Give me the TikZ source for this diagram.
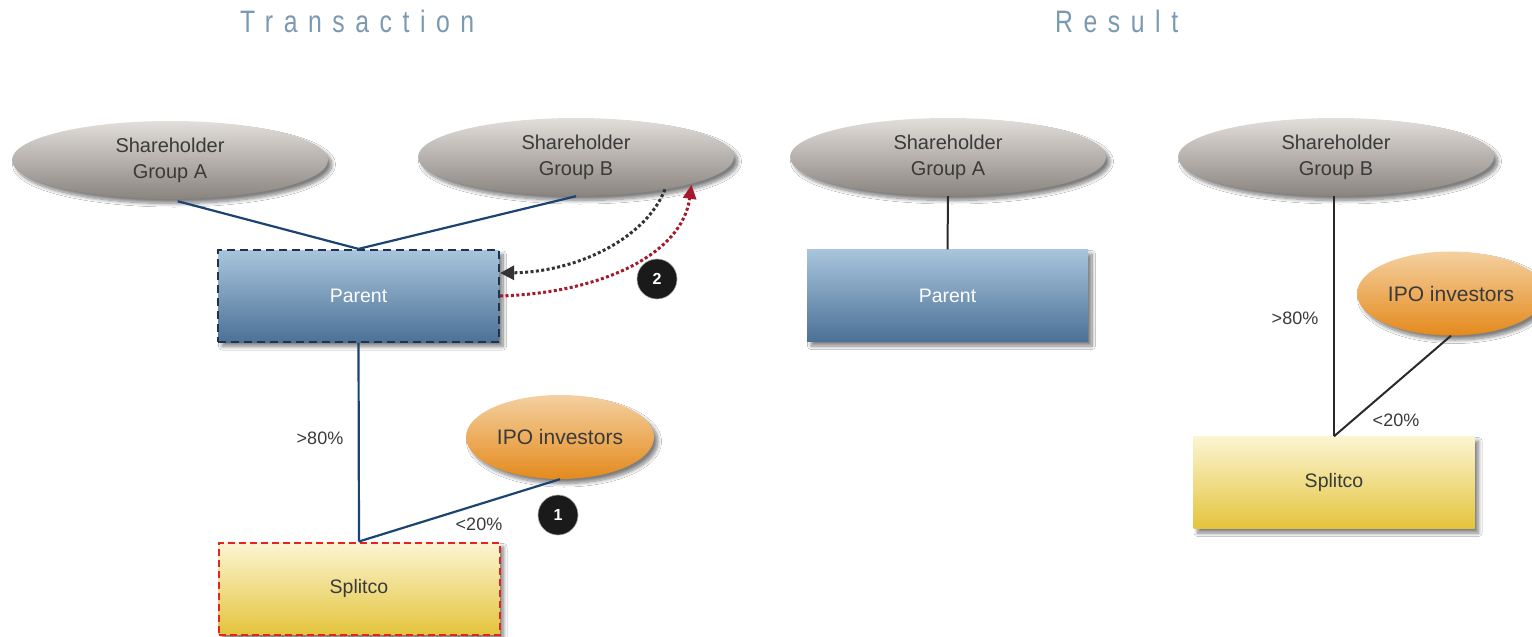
\documentclass[tikz,border=0pt]{standalone}
\usepackage{fontspec}
\setmainfont{Liberation Sans}
\newfontfamily\titlefont[FakeStretch=0.8,LetterSpace=34]{Liberation Sans}
\usetikzlibrary{shapes.geometric,shadows.blur,arrows.meta}

\definecolor{greyTop}{HTML}{E2DEDA}
\definecolor{greyBot}{HTML}{8A847F}
\definecolor{blueTop}{HTML}{A9C5DD}
\definecolor{blueBot}{HTML}{4B7196}
\definecolor{yelTop}{HTML}{FBF5D2}
\definecolor{yelBot}{HTML}{E4C43C}
\definecolor{orTop}{HTML}{F4D0A0}
\definecolor{orBot}{HTML}{E48A1C}
\definecolor{navyline}{HTML}{1B4470}
\definecolor{navyedge}{HTML}{1E3350}
\definecolor{rededge}{HTML}{E42424}
\definecolor{txt}{HTML}{3A3A3A}
\definecolor{titleblue}{HTML}{7A9AB3}
\definecolor{badgeblack}{HTML}{1A1A1A}
\definecolor{arrowred}{HTML}{A31A2C}
\definecolor{arrowblack}{HTML}{333333}
\definecolor{resline}{HTML}{2A2A2A}

\begin{document}
\begin{tikzpicture}[x=1pt,y=-1pt,
  soft/.style={blur shadow={shadow xshift=4pt,shadow yshift=-4.5pt,shadow blur radius=3.5pt,
    shadow blur steps=10,shadow opacity=50}},
  holder/.style={ellipse,soft,minimum width=316pt,minimum height=78pt,inner sep=0pt,
    top color=greyTop,bottom color=greyBot,align=center,text=txt,
    font=\fontsize{20}{26}\selectfont},
  ipo/.style={ellipse,soft,minimum width=188pt,minimum height=84pt,inner sep=0pt,
    top color=orTop,bottom color=orBot,text=txt,font=\fontsize{21}{25}\selectfont},
  entity/.style={rectangle,soft,minimum width=281pt,minimum height=92pt,inner sep=0pt,
    font=\fontsize{19.5}{23}\selectfont},
  parentbox/.style={entity,top color=blueTop,bottom color=blueBot,text=white},
  splitbox/.style={entity,top color=yelTop,bottom color=yelBot,text=txt},
  own/.style={draw=navyline,line width=2.2pt},
  resown/.style={draw=resline,line width=2pt},
  pct/.style={text=txt,font=\fontsize{18}{20}\selectfont},
  badge/.style={circle,fill=badgeblack,draw=gray!70,line width=0.6pt,minimum size=40pt,inner sep=0pt,
    text=white,font=\bfseries\fontsize{16}{16}\selectfont},
  heading/.style={anchor=base west,inner sep=0pt,text=titleblue,font=\titlefont\fontsize{31}{31}\selectfont},
  flow/.style={line width=3pt,dash pattern=on 3pt off 2.4pt}
]
\clip (0,0) rectangle (1532,637);
\fill[white] (0,0) rectangle (1532,637);

% headings
\node[heading] (ttrans) at (240,32) {Transaction};
\node[heading] (tres) at (1055,32) {Result};

% ---- transaction side ----
\node[holder] (sha) at (170,160) {Shareholder\\Group A};
\node[holder] (shb) at (576,157) {Shareholder\\Group B};
\node[parentbox,draw=navyedge,line width=2.2pt,dash pattern=on 8pt off 5pt] (par) at (358.5,296) {Parent};
\node[ipo] (ipo) at (560,437) {IPO investors};
\node[splitbox,draw=rededge,line width=2pt,dash pattern=on 7pt off 4pt] (spl) at (359,588.5) {Splitco};

\draw[own,shorten <=8pt] (sha.south) -- (par.north);
\draw[own] (shb.south) -- (par.north);
\draw[own] (par.south) -- (spl.north);
\draw[own] (ipo.south) -- (spl.north);

\node[pct] (p80) at (320,438) {>80\%};
\node[pct] (p20) at (479,524) {<20\%};

\draw[flow,draw=arrowblack,-{Triangle[length=14pt,width=14pt]}]
  (shb.-20) .. controls (645,240) and (575,272) .. ([yshift=23pt]par.east);
\draw[flow,draw=arrowred,-{Triangle[length=14pt,width=13pt]}]
  (par.east) .. controls (600,293) and (682,255) .. ([xshift=4pt]shb.-14);

\node[badge] (b1) at (558,515) {1};
\node[badge] (b2) at (657,279) {2};

% ---- result side ----
\node[holder] (sha2) at (948,157) {Shareholder\\Group A};
\node[holder] (shb2) at (1336,157) {Shareholder\\Group B};
\node[parentbox] (par2) at (947.5,295.5) {Parent};
\node[ipo] (ipo2) at (1451,293.5) {IPO investors};
\node[splitbox] (spl2) at (1334,482.5) {Splitco};

\draw[resown] (sha2.south) -- (par2.north);
\draw[resown] ([xshift=-2pt]shb2.south) -- (spl2.north);
\draw[resown] (ipo2.south) -- (spl2.north);

\node[pct] (q80) at (1295,318) {>80\%};
\node[pct] (q20) at (1396,420) {<20\%};
\end{tikzpicture}
\end{document}
